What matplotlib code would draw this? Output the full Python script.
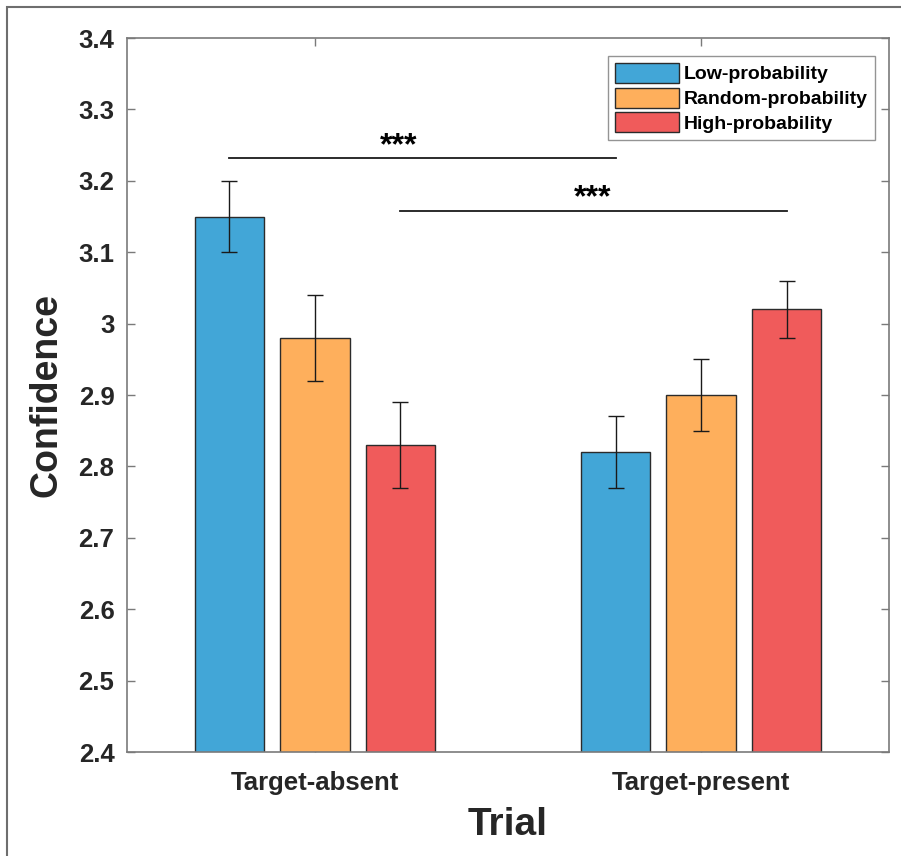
import numpy as np
import matplotlib
matplotlib.use('Agg')
import matplotlib.pyplot as plt
from matplotlib.patches import Rectangle

plt.rcParams['font.family'] = ['Liberation Sans', 'DejaVu Sans']
plt.rcParams['font.weight'] = 'bold'

trials = ['Target-absent', 'Target-present']
conditions = ['Low-probability', 'Random-probability', 'High-probability']
colors = ['#42A6D7', '#FEAF5C', '#F05B5B']

low_mean = [3.15, 2.82]
random_mean = [2.98, 2.90]
high_mean = [2.83, 3.02]
low_err = [0.05, 0.05]
random_err = [0.06, 0.05]
high_err = [0.06, 0.04]

means = [low_mean, random_mean, high_mean]
errs = [low_err, random_err, high_err]

# significance lines: (group, condition) -> (group, condition), y level
sig_pairs = [((0, 0), (1, 0), 3.232), ((0, 2), (1, 2), 3.158)]
sig_text = ['***', '***']
sig_text_x = [1.218, 1.72]

txt = '#262626'
axc = '#7a7a7a'

fig = plt.figure(figsize=(9.01, 8.56), dpi=100)
fig.patches.append(Rectangle((7 / 901, -0.1), 1.2, 1 - 7 / 856 + 0.1,
                             transform=fig.transFigure, fill=False,
                             edgecolor='#6e6e6e', linewidth=1.5))
ax = fig.add_axes([127 / 901, 1 - 752 / 856, 762 / 901, 714 / 856])

x = np.arange(1, len(trials) + 1)
w = 0.179
step = 0.2215
for i in range(3):
    xs = x + (i - 1) * step
    ax.bar(xs, means[i], w, bottom=0, color=colors[i], edgecolor='#2b2b2b',
           linewidth=1.0, label=conditions[i], zorder=2)
    ax.errorbar(xs, means[i], yerr=errs[i], fmt='none', ecolor='#1a1a1a',
                elinewidth=1.0, capsize=6, capthick=1.0, zorder=3)

for (a, b, yv), s, tx in zip(sig_pairs, sig_text, sig_text_x):
    x1 = x[a[0]] + (a[1] - 1) * step
    x2 = x[b[0]] + (b[1] - 1) * step
    ax.plot([x1, x2], [yv, yv], color='#1a1a1a', lw=1.3, zorder=3)
    ax.text(tx, yv - 0.004, s, ha='center', va='bottom',
            fontsize=23, fontweight='bold', color='black')

ax.set_xlim(0.513, 2.487)
ax.set_ylim(2.4, 3.4)
ax.set_yticks(np.arange(2.4, 3.41, 0.1))
ax.set_yticklabels(['2.4', '2.5', '2.6', '2.7', '2.8', '2.9', '3', '3.1', '3.2', '3.3', '3.4'])
ax.set_xticks(x)
ax.set_xticklabels(trials)
ax.tick_params(axis='both', direction='in', length=6, width=1, colors=axc,
               labelcolor=txt, labelsize=18.5, top=True, right=True)
ax.tick_params(axis='x', pad=14)
ax.tick_params(axis='y', pad=9)
for lab in ax.get_xticklabels() + ax.get_yticklabels():
    lab.set_fontweight('bold')
for sp in ax.spines.values():
    sp.set_color(axc)
    sp.set_linewidth(1.2)

ax.set_ylabel('Confidence', fontsize=27, fontweight='bold', color=txt, labelpad=10)
ax.set_xlabel('Trial', fontsize=28, fontweight='bold', color=txt, labelpad=8)

leg = ax.legend(loc='upper right', bbox_to_anchor=(0.9816, 0.9748),
                prop={'weight': 'bold', 'size': 14}, frameon=True, fancybox=False,
                handlelength=3.3, handleheight=1.2, handletextpad=0.25,
                labelspacing=0.22, borderpad=0.35, borderaxespad=0.0)
leg.get_frame().set_edgecolor(axc)
leg.get_frame().set_linewidth(1.0)

fig.savefig('out.png', dpi=100)
